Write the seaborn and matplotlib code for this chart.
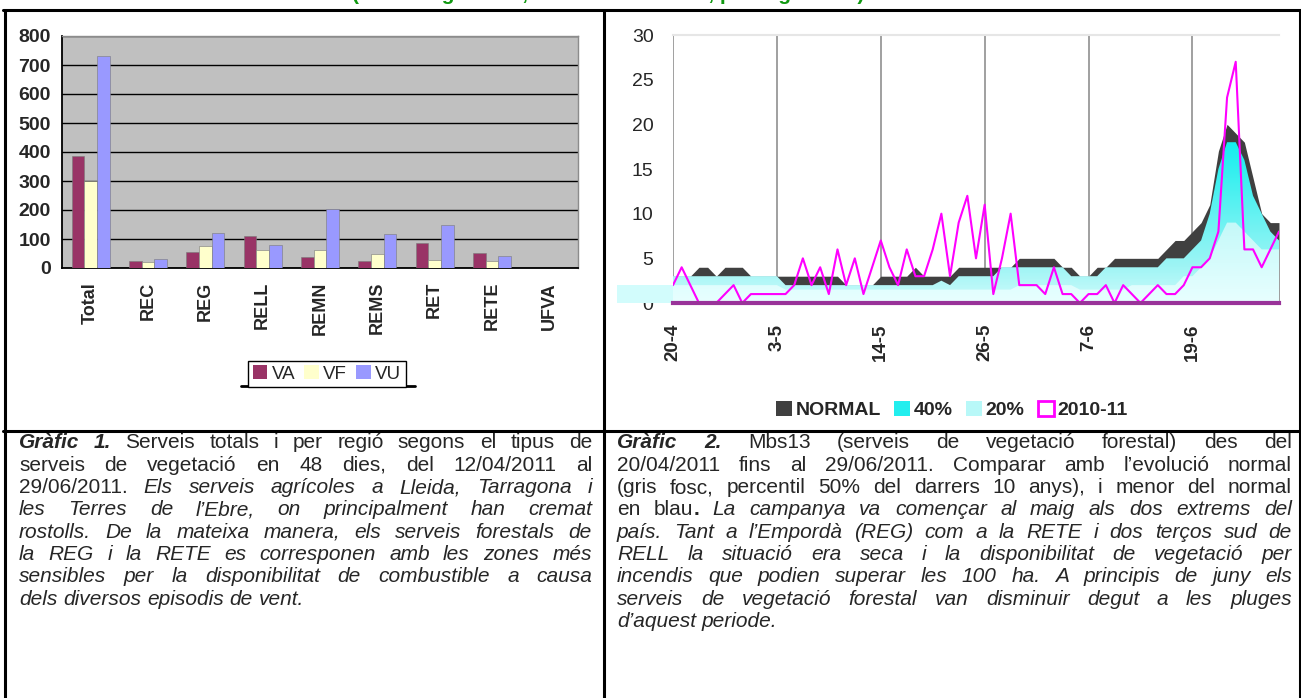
import numpy as np
import pandas as pd
import matplotlib
matplotlib.use('Agg')
import matplotlib.pyplot as plt
import seaborn as sns
from matplotlib.colors import LinearSegmentedColormap
from matplotlib.lines import Line2D
from matplotlib.patches import Patch

# Gràfic 1 - serveis per regió i tipus
regions = ['Total', 'REC', 'REG', 'RELL', 'REMN', 'REMS', 'RET', 'RETE', 'UFVA']
va = [386, 25, 56, 112, 38, 25, 86, 52, 0]
vf = [301, 20, 76, 62, 62, 48, 27, 23, 0]
vu = [730, 32, 120, 79, 205, 117, 148, 40, 0]
types = ['VA', 'VF', 'VU']
type_colors = ['#993366', '#FFFFCC', '#9999FF']

# Gràfic 2 - Mbs13 diari del 20/04 al 29/06
day_labels = ['20-4', '3-5', '14-5', '26-5', '7-6', '19-6']
normal = [3, 3, 3, 4, 4, 3, 4, 4, 4, 3, 3, 3, 3, 3, 3, 3, 3, 3, 3, 3,
          2, 2, 2, 2, 3, 3, 3, 3, 4, 3, 3, 3, 3, 4, 4, 4, 4, 4, 4, 4,
          5, 5, 5, 5, 5, 4, 4, 3, 3, 4, 4, 5, 5, 5, 5, 5, 5, 6, 7, 7,
          8, 9, 11, 17, 20, 19, 18, 14, 10, 9, 9]
p40 = [3, 3, 3, 3, 3, 3, 3, 3, 3, 3, 3, 3, 3, 2, 2, 2, 2, 2, 2, 2,
       2, 2, 2, 2, 2, 2, 2, 2, 2, 2, 2, 2.5, 2, 3, 3, 3, 3, 3, 4, 4,
       4, 4, 4, 4, 4, 4, 3, 3, 3, 3, 4, 4, 4, 4, 4, 4, 4, 5, 5, 5,
       6, 7, 10, 15, 18, 18, 16, 12, 10, 8, 7]
p20 = [2, 2, 2, 2, 2, 2, 2, 2, 2, 2, 2, 2, 2, 1.5, 1.5, 1.5, 1.5, 1.5, 1.5, 1.5,
       1.5, 1.5, 1.5, 1.5, 1.5, 1.5, 1.5, 1.5, 1.5, 1.5, 1.5, 1.5, 1.5, 1.5, 1.5, 1.5, 1.5, 1.5, 1.5, 1.5,
       2, 2, 2, 2, 2, 2, 2, 1.5, 1.5, 1.5, 1.5, 1.5, 1.5, 2, 2, 2, 2, 2, 2, 3,
       3, 4, 5, 7, 9, 9, 8, 7, 6, 6, 6]
serv_2011 = [2, 4, 2, 0, 0, 0, 1, 2, 0, 1, 1, 1, 1, 1, 2, 5, 2, 4, 1, 6,
             2, 5, 1, 4, 7, 4, 2, 6, 3, 3, 6, 10, 3, 9, 12, 5, 11, 1, 5, 10,
             2, 2, 2, 1, 4, 1, 1, 0, 1, 1, 2, 0, 2, 1, 0, 1, 2, 1, 1, 2,
             4, 4, 5, 8, 23, 27, 6, 6, 4, 6, 8]
series_labels = ['NORMAL', '40%', '20%', '2010-11']

W, H = 1301, 698
sns.set_style('white')
plt.rcParams['font.family'] = ['Liberation Sans', 'DejaVu Sans']
fig = plt.figure(figsize=(W / 100, H / 100), dpi=100)


def fx(px):
    return px / W


def fy(py):
    return 1 - py / H


# ---------- left chart ----------
ax1 = fig.add_axes([fx(62), fy(268), fx(578) - fx(62), fy(36) - fy(268)])
df1 = pd.DataFrame({
    'regio': regions * 3,
    'tipus': [t for t in types for _ in regions],
    'serveis': va + vf + vu,
})
sns.barplot(data=df1, x='regio', y='serveis', hue='tipus', palette=type_colors,
            saturation=1, width=0.667, gap=0, ax=ax1, legend=False,
            edgecolor='#7a7a7a', linewidth=0.4, zorder=3)
ax1.set_facecolor('#C0C0C0')
ax1.set_ylim(0, 800)
ax1.set_xlim(-0.5, 8.5)
ax1.set_yticks(range(0, 801, 100))
ax1.yaxis.grid(True, color='black', lw=1)
ax1.set_axisbelow(True)
ax1.set_xlabel('')
ax1.set_ylabel('')
ax1.set_xticks(range(len(regions)))
ax1.set_xticklabels(regions, rotation=90, fontsize=13, fontweight='bold', va='top')
ax1.set_xticks(np.arange(-0.5, 9, 1), minor=True)
ax1.tick_params(axis='x', which='major', length=0, pad=10)
ax1.tick_params(axis='x', which='minor', length=6, width=1.2, color='black', direction='out')
ax1.tick_params(axis='y', length=5, width=1.2, color='black', pad=3, labelsize=14)
for lab in ax1.get_yticklabels():
    lab.set_fontweight('bold')
for s in ['left', 'bottom']:
    ax1.spines[s].set_color('black')
    ax1.spines[s].set_linewidth(1.3)
for s in ['top', 'right']:
    ax1.spines[s].set_color('#8c8c8c')
    ax1.spines[s].set_linewidth(1)

h1 = [Patch(facecolor=c, edgecolor='none') for c in type_colors]
leg1 = fig.legend(h1, types, loc='center', bbox_to_anchor=(fx(327), fy(374)), ncol=3,
                  frameon=True, fancybox=False, edgecolor='black', framealpha=1,
                  handlelength=0.75, handleheight=0.75, handletextpad=0.25,
                  columnspacing=0.5, fontsize=13.5, borderpad=0.25)
leg1.get_frame().set_linewidth(1)
fig.add_artist(Line2D([fx(241), fx(415)], [fy(386), fy(386)], color='black', lw=2))

# ---------- right chart ----------
ax2 = fig.add_axes([fx(673), fy(303), fx(1279) - fx(673), fy(35) - fy(303)])
idx = np.arange(len(normal))
ax2.fill_between(idx, normal, color='#404040', lw=0, zorder=1)


def gradient_fill(ax, x, y, stops, ymax, zorder):
    xs = np.asarray(x, dtype=float)
    poly = ax.fill_between(xs, y, color='none', lw=0)
    cmap = LinearSegmentedColormap.from_list('g', stops)
    grad = np.linspace(0, 1, 256).reshape(-1, 1)
    im = ax.imshow(grad, extent=[xs[0], xs[-1], 0, ymax], origin='lower', aspect='auto',
                   cmap=cmap, zorder=zorder, interpolation='bicubic')
    im.set_clip_path(poly.get_paths()[0], transform=ax.transData)
    return im


gradient_fill(ax2, idx, p40, [(0, '#cffbfb'), (0.22, '#a0f5f5'), (1, '#14eeee')], 18, 2)
gradient_fill(ax2, idx, p20, [(0, '#e8ffff'), (1, '#c4f9f9')], 9, 3)
band = ax2.fill_between([-6.5, 0], [p20[0], p20[0]], color='#d2fcfc', lw=0, zorder=3)
band.set_clip_on(False)

sns.lineplot(x=idx, y=serv_2011, color='#FF00FF', lw=1.5, ax=ax2, zorder=5)
ax2.set_xlim(0, len(normal) - 1)
ax2.set_ylim(0, 30)
ax2.set_xticks(range(0, 61, 12))
ax2.set_xticklabels(day_labels, rotation=90, fontsize=13.5, fontweight='bold', va='top')
ax2.set_yticks(range(0, 31, 5))
ax2.tick_params(axis='y', length=0, pad=14, labelsize=14)
ax2.tick_params(axis='x', length=5, width=1, color='#8c8c8c', pad=10)
ax2.xaxis.grid(True, color='#a0a0a0', lw=1.4)
ax2.yaxis.grid(False)
ax2.set_axisbelow(True)
ax2.spines['left'].set_visible(False)
ax2.spines['right'].set_visible(False)
ax2.spines['top'].set_color('#e6e6e6')
ax2.spines['top'].set_linewidth(1.5)
ax2.spines['bottom'].set_color('#993399')
ax2.spines['bottom'].set_linewidth(3)
ax2.spines['bottom'].set_zorder(6)

h2 = [Patch(facecolor='#404040', edgecolor='none'),
      Patch(facecolor='#22eeee', edgecolor='none'),
      Patch(facecolor='#b8f8f8', edgecolor='none'),
      Patch(facecolor='white', edgecolor='#FF00FF', lw=2)]
fig.legend(h2, series_labels, loc='center', bbox_to_anchor=(fx(952), fy(410)), ncol=4,
           frameon=False, handlelength=0.8, handleheight=0.8, handletextpad=0.2,
           columnspacing=0.7, prop={'weight': 'bold', 'size': 14})

# ---------- page frame ----------
for xa, ya, xb, yb in [(3, 10, 1301, 10), (4.5, 10, 4.5, 698), (603.5, 10, 603.5, 698),
                       (3, 430.5, 1301, 430.5), (1299.5, 10, 1299.5, 698)]:
    fig.add_artist(Line2D([fx(xa), fx(xb)], [fy(ya), fy(yb)], color='black', lw=2.2))

# heading of the page, mostly above the cut
fig.text(fx(55), fy(0.3), 'Evolució dels serveis', color='#7a7a7a',
         fontsize=15, fontweight='bold', va='baseline')
fig.text(fx(352), fy(0.3), '(Mbs13 agrícoles, forestals i urbans, per regió i dia)', color='#119911',
         fontsize=15, fontweight='bold', va='baseline')

# ---------- captions (justified) ----------
cap_font = ['Liberation Sans', 'DejaVu Sans']
left_lines = [
    [('Gràfic 1.', 'bi'), (' Serveis totals i per regió segons el tipus de', 'r')],
    [('serveis de vegetació en 48 dies, del 12/04/2011 al', 'r')],
    [('29/06/2011. ', 'r'), ('Els serveis agrícoles a Lleida, Tarragona i', 'i')],
    [('les Terres de l’Ebre, on principalment han cremat', 'i')],
    [('rostolls. De la mateixa manera, els serveis forestals de', 'i')],
    [('la REG i la RETE es corresponen amb les zones més', 'i')],
    [('sensibles per la disponibilitat de combustible a causa', 'i')],
    [('dels diversos episodis de vent.', 'i')],
]
right_lines = [
    [('Gràfic 2.', 'bi'), (' Mbs13 (serveis de vegetació forestal) des del', 'r')],
    [('20/04/2011 fins al 29/06/2011. Comparar amb l’evolució normal', 'r')],
    [('(gris fosc, percentil 50% del darrers 10 anys), i menor del normal', 'r')],
    [('en blau', 'r'), ('.', 'b'), (' La campanya va començar al maig als dos extrems del', 'i')],
    [('país. Tant a l’Empordà (REG) com a la RETE i dos terços sud de', 'i')],
    [('RELL la situació era seca i la disponibilitat de vegetació per', 'i')],
    [('incendis que podien superar les 100 ha. A principis de juny els', 'i')],
    [('serveis de vegetació forestal van disminuir degut a les pluges', 'i')],
    [('d’aquest periode.', 'i')],
]

renderer = fig.canvas.get_renderer()


def words_of(runs):
    words = []
    glue = False
    for txt, st in runs:
        for i, p in enumerate(txt.split(' ')):
            if p == '':
                glue = False
                continue
            if i == 0 and glue and words:
                words[-1].append((p, st))
            else:
                words.append([(p, st)])
            glue = True
    return words


def make_word(word, fs):
    arts = []
    for txt, st in word:
        arts.append(fig.text(0, 0, txt, fontsize=fs, family=cap_font, va='baseline', ha='left',
                             style='italic' if 'i' in st else 'normal',
                             weight='bold' if 'b' in st else 'normal'))
    ws = [a.get_window_extent(renderer).width for a in arts]
    return arts, ws


def place_line(runs, x0, x1, y, fs, justify):
    items = [make_word(w, fs) for w in words_of(runs)]
    total = sum(sum(ws) for _, ws in items)
    space = 0.278 * fs * 100 / 72
    gap = (x1 - x0 - total) / (len(items) - 1) if justify and len(items) > 1 else space
    x = x0
    for arts, ws in items:
        for a, w in zip(arts, ws):
            a.set_position((fx(x), fy(y)))
            x += w
        x += gap


def natural_width(runs, fs):
    items = [make_word(w, fs) for w in words_of(runs)]
    total = sum(sum(ws) for _, ws in items)
    for arts, _ in items:
        for a in arts:
            a.remove()
    return total + 0.278 * fs * 100 / 72 * (len(items) - 1)


fs = 15
for lines, x0, x1 in [(left_lines, 19, 592), (right_lines, 617, 1292)]:
    for r in lines[:-1]:
        nw = natural_width(r, fs)
        if nw > (x1 - x0):
            fs *= (x1 - x0) / nw
for lines, x0, x1 in [(left_lines, 19, 592), (right_lines, 617, 1292)]:
    for k, r in enumerate(lines):
        place_line(r, x0, x1, 448.5 + 22.3 * k, fs, k < len(lines) - 1)

fig.savefig('out.png', dpi=100)
